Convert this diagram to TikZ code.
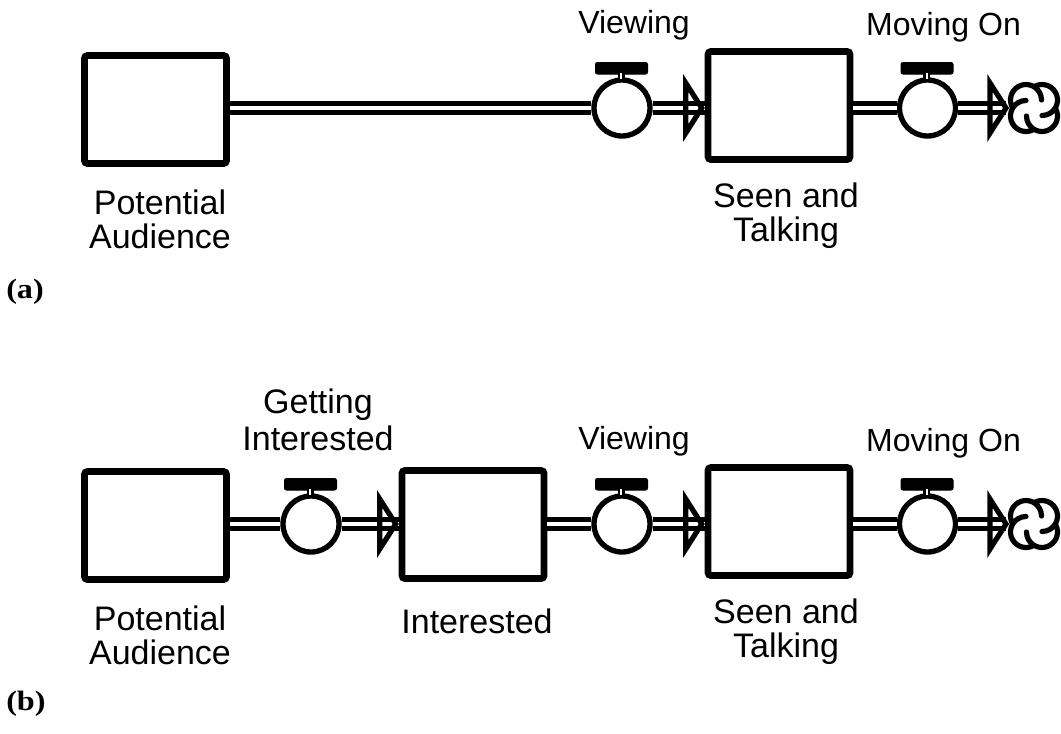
\documentclass[tikz,border=0pt]{standalone}
\usepackage{fontspec}
\setmainfont{Liberation Sans}
\newfontfamily\tagfont{Liberation Serif}
\usetikzlibrary{calc}

\begin{document}
\begin{tikzpicture}[x=0.75pt,y=-0.75pt,
  stock/.style={draw, line width=4.9pt, rounded corners=2pt, minimum width=106.5pt,
    minimum height=81pt, inner sep=0pt},
  valve/.style={draw, circle, line width=4pt, minimum size=42pt, inner sep=0pt},
  pipe/.style={line width=3.6pt, double distance=2.8pt, double=white},
  handle/.style={draw, fill=black, line width=0.75pt, rounded corners=1.5pt},
  stem/.style={line width=1.875pt, double distance=1.5pt, double=white},
  head/.style={draw, line width=3.9pt, line join=miter},
  cloudline/.style={line width=3.9pt, line cap=round},
  lbl/.style={font=\fontsize{25.5}{25.5}\selectfont, inner sep=0pt, anchor=base, align=center},
  flbl/.style={font=\fontsize{24}{24}\selectfont, inner sep=0pt, anchor=base},
  tag/.style={font=\tagfont\bfseries\fontsize{21}{21}\selectfont, inner sep=0pt, anchor=base west}
]
\useasboundingbox (0,0) rectangle (1061,733);

% ---------- (a) ----------
\node[stock] (pa) at (155.5,109.5) {};
\node[stock] (st) at (779,105.5) {};
\node[valve] (v1) at (622,108) {};
\node[valve] (v2) at (927.5,108) {};
\coordinate (c1) at (1034,108);
\coordinate (c1w) at (1010,108);

\draw[pipe] (pa.east |- v1) -- (v1.west);
\draw[pipe] (v1.east) -- (v1 -| st.west);
\draw[head] ($(v1 -| st.west)+(-19,-25)$) -- ($(v1 -| st.west)+(-3,0)$)
  -- ($(v1 -| st.west)+(-19,25)$) -- cycle;
\draw[pipe] (st.east |- v2) -- (v2.west);
\draw[pipe] (v2.east) -- ($(c1w)+(-4,0)$);
\draw[head] ($(c1w)+(-20,-25)$) -- ($(c1w)+(-4,0)$) -- ($(c1w)+(-20,25)$) -- cycle;

\foreach \v in {v1,v2}{
  \draw[handle] ($(\v)+(-26.5,-45.5)$) rectangle ($(\v)+(25.5,-34)$);
  \draw[stem] ($(\v)+(-1,-35)$) -- ($(\v)+(-1,-29)$);
}
\foreach \k in {0,1,2,3}{
  \draw[cloudline] ($(c1)+({45+90*\k}:11.3)+({-30+90*\k}:15.5)$)
    arc[start angle={-30+90*\k}, end angle={180+90*\k}, radius=15.5];
}

\node[lbl] (lpa) at (160,248) {Potential\\Audience};
\node[lbl] (lst) at (786,241) {Seen and\\Talking};
\node[flbl] (lv1) at (634,33) {Viewing};
\node[flbl] (lm1) at (943.5,35) {Moving On};
\node[tag] (ta) at (6,298) {\scalebox{1.15}[1]{(a)}};

% ---------- (b) ----------
\node[stock] (pb) at (155.5,525.5) {};
\node[stock] (ib) at (473,524.5) {};
\node[stock] (sb) at (779,521.5) {};
\node[valve] (vg) at (311,524) {};
\node[valve] (vv) at (622,524) {};
\node[valve] (vm) at (927.5,524) {};
\coordinate (c2) at (1034,524);
\coordinate (c2w) at (1010,524);

\draw[pipe] (pb.east |- vg) -- (vg.west);
\draw[pipe] (vg.east) -- (vg -| ib.west);
\draw[head] ($(vg -| ib.west)+(-19,-25)$) -- ($(vg -| ib.west)+(-3,0)$)
  -- ($(vg -| ib.west)+(-19,25)$) -- cycle;
\draw[pipe] (ib.east |- vv) -- (vv.west);
\draw[pipe] (vv.east) -- (vv -| sb.west);
\draw[head] ($(vv -| sb.west)+(-19,-25)$) -- ($(vv -| sb.west)+(-3,0)$)
  -- ($(vv -| sb.west)+(-19,25)$) -- cycle;
\draw[pipe] (sb.east |- vm) -- (vm.west);
\draw[pipe] (vm.east) -- ($(c2w)+(-4,0)$);
\draw[head] ($(c2w)+(-20,-25)$) -- ($(c2w)+(-4,0)$) -- ($(c2w)+(-20,25)$) -- cycle;

\foreach \v in {vg,vv,vm}{
  \draw[handle] ($(\v)+(-26.5,-45.5)$) rectangle ($(\v)+(25.5,-34)$);
  \draw[stem] ($(\v)+(-1,-35)$) -- ($(\v)+(-1,-29)$);
}
\foreach \k in {0,1,2,3}{
  \draw[cloudline] ($(c2)+({45+90*\k}:11.3)+({-30+90*\k}:15.5)$)
    arc[start angle={-30+90*\k}, end angle={180+90*\k}, radius=15.5];
}

\node[lbl] (lpb) at (160,664) {Potential\\Audience};
\node[lbl] (lib) at (477,633) {Interested};
\node[lbl] (lsb) at (786,657) {Seen and\\Talking};
\node[lbl, font=\fontsize{25.5}{27.75}\selectfont] (lgi) at (318,450) {Getting\\Interested};
\node[flbl] (lv2) at (634,449) {Viewing};
\node[flbl] (lm2) at (943.5,451) {Moving On};
\node[tag] (tb) at (6,710) {\scalebox{1.15}[1]{(b)}};
\end{tikzpicture}
\end{document}
